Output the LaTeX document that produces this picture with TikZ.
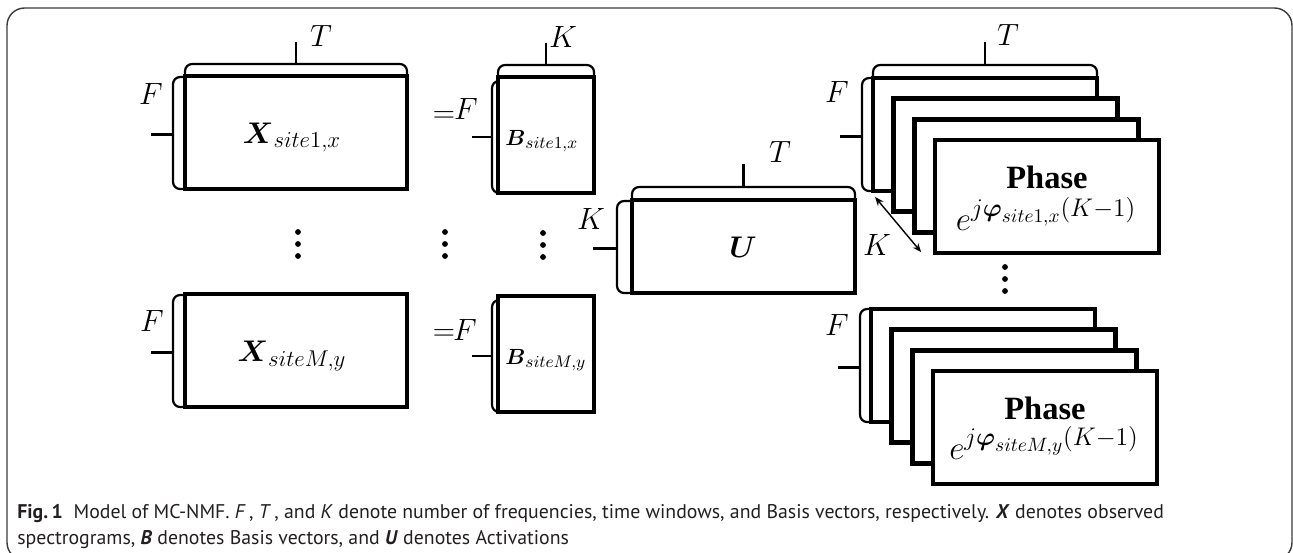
\RequirePackage{fix-cm}
\documentclass[tikz,border=0pt]{standalone}
\usepackage{amsmath}
\usepackage{graphicx}
\usepackage{fontspec}
\newfontfamily\capfont{PT Sans}
\newfontfamily\phasefont{Liberation Serif}
\usetikzlibrary{arrows.meta,calc}

% roomier sub- and superscripts for the matrix names
\DeclareMathSizes{17}{17}{13}{10}
\DeclareMathSizes{12.5}{12.5}{9.6}{7.5}
\DeclareMathSizes{19}{19}{14.5}{11}

\definecolor{capink}{HTML}{231F20}
\definecolor{frameink}{HTML}{3A3A3A}

% brace above a matrix node: node, gap, tip length
\newcommand{\topbrace}[3]{%
  \draw[br,rounded corners=4] (#1.north west) -- ($(#1.north west)+(0,-#2)$)
     -- ($(#1.north east)+(0,-#2)$) -- (#1.north east);
  \draw[br] ($(#1.north)+(0,-#2)$) -- ($(#1.north)+(0,-#2-#3)$);}
% brace left of a matrix node: node, gap, tip length, top inset
\newcommand{\leftbrace}[4]{%
  \draw[br,rounded corners=4] ($(#1.north west)+(0,#4)$) -- ($(#1.north west)+(-#2,#4)$)
     -- ($(#1.south west)+(-#2,0)$) -- (#1.south west);
  \draw[br] ($(#1.west)+(-#2,2)$) -- ($(#1.west)+(-#2-#3,2)$);}

\newcommand{\capone}{{\bfseries Fig.\,1}\hspace{0.55em}Model of MC-NMF. \textit{F}\,, \textit{T}\,, and \textit{K} denote number of frequencies, time windows, and Basis vectors, respectively. \textbf{\textit{X}} denotes observed}
\newcommand{\captwo}{spectrograms, \textbf{\textit{B}} denotes Basis vectors, and \textbf{\textit{U}} denotes Activations}
\newcommand{\capsize}{\capfont\fontsize{10.5}{12}\selectfont}
\newlength\capw

\begin{document}
\settowidth{\capw}{\capsize\capone}%
\pgfmathsetmacro{\capsc}{652.6/\capw}%
\begin{tikzpicture}[x=0.02cm, y=-0.02cm,
  mat/.style={draw, line width=2.6pt, fill=white, inner sep=0pt, outer sep=0pt},
  br/.style={line width=1.25pt},
  lab/.style={inner sep=0pt, font=\fontsize{17.5}{20}\selectfont},
  bigm/.style={inner sep=0pt, font=\fontsize{17}{20}\selectfont},
  smallm/.style={inner sep=0pt, font=\fontsize{12.5}{15}\selectfont},
  phase/.style={inner sep=0pt, font=\phasefont\bfseries\fontsize{18.5}{22}\selectfont},
  expo/.style={inner sep=0pt, font=\fontsize{19}{23}\selectfont},
  caption/.style={inner sep=0pt, anchor=base west, text=capink}]
\useasboundingbox (0,0) rectangle (1293,552);

% outer frame
\draw[line width=0.8pt, draw=frameink, rounded corners=10] (7,8) rectangle (1292,560);

% observed spectrograms
\node[mat, minimum width=4.44cm, minimum height=2.26cm] (X1) at (296,132.5) {};
\node[mat, minimum width=4.44cm, minimum height=2.26cm] (XM) at (296,350.5) {};
\node[bigm, anchor=base] (X1t) at (292,143) {$\boldsymbol{X}_{site1,x}$};
\node[bigm, anchor=base] (XMt) at (292,361) {$\boldsymbol{X}_{siteM,y}$};
\topbrace{X1}{12}{22}
\leftbrace{X1}{12}{22}{1}
\leftbrace{XM}{12}{22}{1}
\node[lab] (TX) at (321,36) {$T$};
\node[lab] (FX1) at (151,94) {$F$};
\node[lab] (FXM) at (152,321) {$F$};

% basis matrices
\node[mat, minimum width=1.92cm, minimum height=2.32cm] (B1) at (546,135) {};
\node[mat, minimum width=1.92cm, minimum height=2.32cm] (BM) at (546,354) {};
\node[smallm, anchor=base west] (B1t) at (505,145) {$\boldsymbol{B}_{site1,x}$};
\node[smallm, anchor=base west] (BMt) at (505,364) {$\boldsymbol{B}_{siteM,y}$};
\topbrace{B1}{12}{22}
\leftbrace{B1}{6}{20}{4}
\leftbrace{BM}{6}{20}{4}
\node[lab] (KB) at (563,37) {$K$};
\node[lab] (eq1) at (444,117) {$=$};
\node[lab] (FB1) at (466,109) {$F$};
\node[lab] (eq2) at (444,335) {$=$};
\node[lab] (FBM) at (465,330) {$F$};

% vertical ellipses
\foreach \cx/\cy [count=\n] in {298/244, 445/244, 543/245, 1005/279}{
  \coordinate (dots\n) at (\cx,\cy);
  \foreach \dy in {-12,0,12}
    \fill ($(dots\n)+(0,\dy)$) circle (2.9);
}

% activations
\node[mat, minimum width=4.46cm, minimum height=1.86cm] (U) at (743.5,246.5) {};
\node[bigm, anchor=base] (Ut) at (743,257) {$\boldsymbol{U}$};
\topbrace{U}{13}{23}
\leftbrace{U}{15}{24}{1}
\node[lab] (TU) at (780,152) {$T$};
\node[lab] (KU) at (591,219) {$K$};

% phase stacks
\foreach \i in {0,1,2,3}{
  \node[mat, minimum width=4.48cm, minimum height=2.26cm] (Pa\i) at (985+20.7*\i,134.5+20.7*\i) {};
}
\foreach \i in {0,1,2,3}{
  \node[mat, minimum width=4.48cm, minimum height=2.26cm] (Pb\i) at (983+20.7*\i,365.5+20.7*\i) {};
}
\node[phase, anchor=base] (Pha) at (1047,188) {Phase};
\node[expo, anchor=base] (Exa) at (1046,230) {$e^{j\boldsymbol{\varphi}_{site1,x}(K-1)}$};
\node[phase, anchor=base] (Phb) at (1045,419) {Phase};
\node[expo, anchor=base] (Exb) at (1044,459) {$e^{j\boldsymbol{\varphi}_{siteM,y}(K-1)}$};
\topbrace{Pa0}{13}{23}
\leftbrace{Pa0}{11}{22}{0}
\leftbrace{Pb0}{11}{22}{0}
\node[lab] (TP) at (1008,35) {$T$};
\node[lab] (FPa) at (837,92) {$F$};
\node[lab] (FPb) at (837,325) {$F$};

% depth arrow
\coordinate (ka) at ($(Pa0.south west)+(2,6)$);
\coordinate (kb) at ($(Pa3.south west)+(-14,-1)$);
\draw[{Stealth[length=5pt,width=4pt]}-{Stealth[length=5pt,width=4pt]}, line width=0.8pt] (ka) -- (kb);
\node[lab] (KP) at (877,245) {$K$};

% caption
\node[caption] (cap1) at (17,518) {\scalebox{\capsc}{\capsize\capone}};
\node[caption] (cap2) at (17,544) {\scalebox{\capsc}{\capsize\captwo}};
\end{tikzpicture}
\end{document}
